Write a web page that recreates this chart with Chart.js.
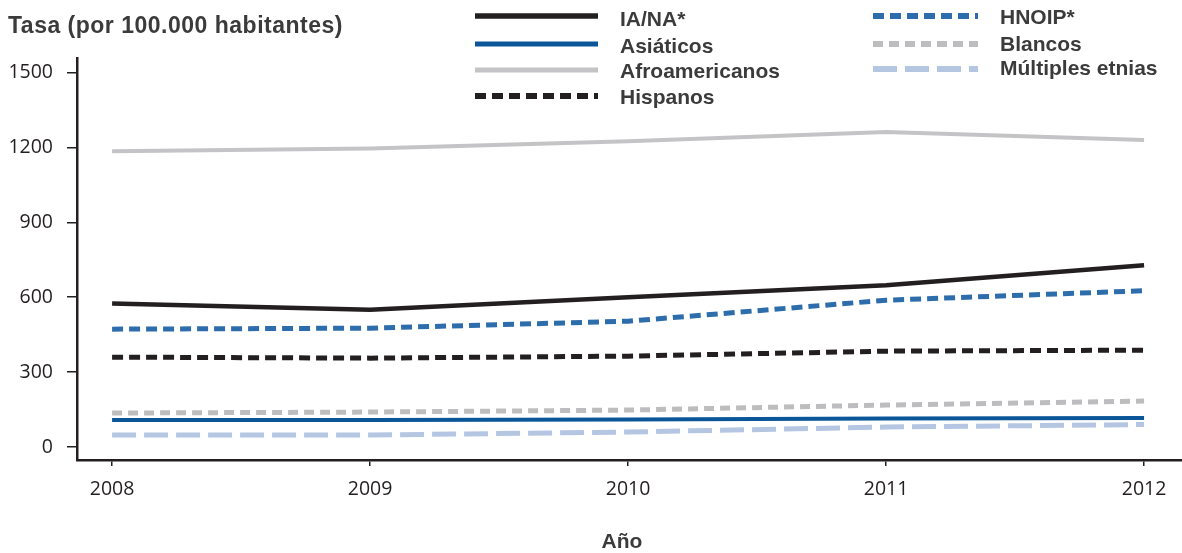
<!DOCTYPE html>
<html>
<head>
<meta charset="utf-8">
<script src="https://cdn.jsdelivr.net/npm/chart.js@4.4.1/dist/chart.umd.min.js"></script>
<style>
  html, body { margin: 0; padding: 0; background: #ffffff; }
  #wrap { width: 1182px; height: 553px; position: relative; }
  canvas { display: block; }
</style>
</head>
<body>
<div id="wrap"><canvas id="c" width="1182" height="553" style="width:1182px;height:553px"></canvas></div>
<script>
// ---- Data ----
const years = [2008, 2009, 2010, 2011, 2012];
const iaNa = [575, 550, 600, 648, 728];
const asiaticos = [108, 108, 110, 114, 116];
const afroamericanos = [1185, 1196, 1225, 1262, 1230];
const hispanos = [360, 356, 364, 384, 388];
const hnoip = [472, 476, 504, 588, 626];
const blancos = [136, 140, 148, 168, 184];
const multiples = [48, 48, 60, 80, 90];
const yTickValues = [0, 300, 600, 900, 1200, 1500];
const yAxisTitle = 'Tasa (por 100.000 habitantes)';
const xAxisTitle = 'Año';

const series = [
  { label: 'IA/NA*', data: iaNa, color: '#231f20', width: 4.5, dash: [], col: 0, row: 0 },
  { label: 'Asiáticos', data: asiaticos, color: '#0a5699', width: 4, dash: [], col: 0, row: 1 },
  { label: 'Afroamericanos', data: afroamericanos, color: '#c4c4c6', width: 4, dash: [], col: 0, row: 2 },
  { label: 'Hispanos', data: hispanos, color: '#231f20', width: 5, dash: [11, 6], col: 0, row: 3 },
  { label: 'HNOIP*', data: hnoip, color: '#2e6dab', width: 5, dash: [11, 6], col: 1, row: 0 },
  { label: 'Blancos', data: blancos, color: '#bdbdbf', width: 5, dash: [10, 6], col: 1, row: 1 },
  { label: 'Múltiples etnias', data: multiples, color: '#b5c6e3', width: 5, dash: [24, 8], col: 1, row: 2 }
];

const datasets = series.map(s => ({
  label: s.label,
  data: years.map((y, i) => ({ x: y, y: s.data[i] })),
  borderColor: s.color,
  backgroundColor: s.color,
  borderWidth: s.width,
  borderDash: s.dash,
  borderCapStyle: 'butt',
  borderJoinStyle: 'round',
  pointRadius: 0,
  tension: 0,
  fill: false
}));

const textPlugin = {
  id: 'texts',
  afterDraw(chart) {
    const ctx = chart.ctx;
    ctx.save();
    // Axis title
    ctx.fillStyle = '#3b3b3b';
    ctx.font = 'bold 23px "Liberation Sans", Arial, sans-serif';
    try { ctx.letterSpacing = '0.5px'; } catch (e) {}
    ctx.textBaseline = 'alphabetic';
    ctx.textAlign = 'left';
    ctx.fillText(yAxisTitle, 8, 33);
    try { ctx.letterSpacing = '0px'; } catch (e) {}
    // X axis title
    ctx.font = 'bold 21px "Liberation Sans", Arial, sans-serif';
    ctx.textAlign = 'center';
    ctx.fillText(xAxisTitle, 622, 548);
    // Legend
    const cols = [
      { x0: 475, x1: 598, tx: 620, lineY: [16, 44, 70, 96], textY: [20, 47, 72, 98] },
      { x0: 873, x1: 978, tx: 1000, lineY: [16, 44, 69], textY: [18, 45, 69] }
    ];
    series.forEach(s => {
      const c = cols[s.col];
      ctx.beginPath();
      ctx.strokeStyle = s.color;
      ctx.lineWidth = s.width + 1;
      ctx.lineCap = 'butt';
      ctx.setLineDash(s.dash);
      ctx.moveTo(c.x0, c.lineY[s.row]);
      ctx.lineTo(c.x1, c.lineY[s.row]);
      ctx.stroke();
      ctx.setLineDash([]);
      ctx.fillStyle = '#3b3b3b';
      ctx.font = 'bold 21px "Liberation Sans", Arial, sans-serif';
      ctx.textAlign = 'left';
      ctx.textBaseline = 'middle';
      ctx.fillText(s.label, c.tx, c.textY[s.row]);
    });
    ctx.restore();
  }
};

new Chart(document.getElementById('c'), {
  type: 'line',
  data: { datasets },
  options: {
    responsive: false,
    animation: false,
    devicePixelRatio: 1,
    layout: { padding: { top: 58, left: 0, right: 0, bottom: 0 } },
    plugins: { legend: { display: false }, tooltip: { enabled: false }, title: { display: false } },
    scales: {
      x: {
        type: 'linear',
        min: 2007.864,
        max: 2012.147,
        afterBuildTicks: (scale) => { scale.ticks = years.map(v => ({ value: v })); },
        afterFit: (scale) => { scale.height = 93; },
        grid: { drawOnChartArea: false, drawTicks: true, tickLength: 6, color: '#231f20', lineWidth: 1.5 },
        border: { display: true, color: '#231f20', width: 2.5 },
        ticks: {
          autoSkip: false, maxRotation: 0, padding: 12, color: '#231f20',
          font: { family: '"Open Sans", sans-serif', size: 19.5 },
          callback: (v) => String(v)
        }
      },
      y: {
        type: 'linear',
        min: -52,
        max: 1558,
        afterBuildTicks: (scale) => { scale.ticks = yTickValues.map(v => ({ value: v })); },
        afterFit: (scale) => { scale.width = 77; },
        grid: { drawOnChartArea: false, drawTicks: true, tickLength: 10, color: '#231f20', lineWidth: 1.5 },
        border: { display: true, color: '#231f20', width: 2.5 },
        ticks: {
          padding: 14, color: '#231f20',
          font: { family: '"Open Sans", sans-serif', size: 19.5 },
          callback: (v) => String(v)
        }
      }
    }
  },
  plugins: [textPlugin]
});
</script>
</body>
</html>
